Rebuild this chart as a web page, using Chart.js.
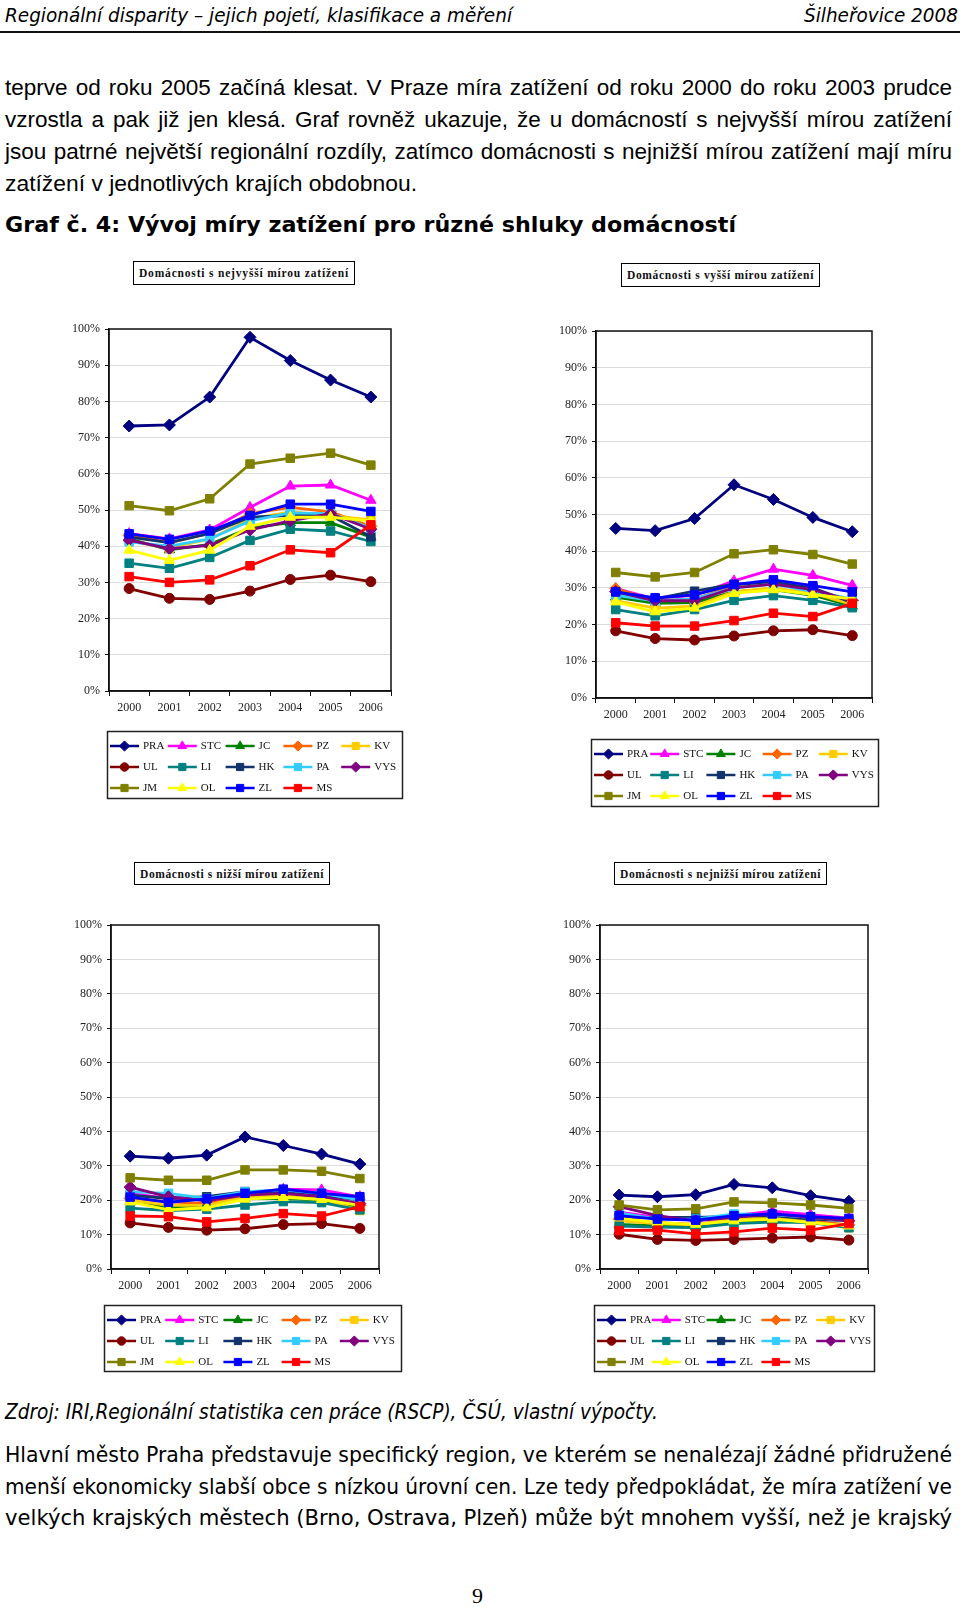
<!DOCTYPE html>
<html><head><meta charset="utf-8">
<script src="https://cdn.jsdelivr.net/npm/chart.js@4.4.1/dist/chart.umd.min.js"></script>
<style>
html,body{margin:0;padding:0;background:#fff;}
body{width:960px;height:1607px;position:relative;overflow:hidden;}
.t{position:absolute;white-space:nowrap;transform-origin:0 50%;color:#000;}
.cv{position:absolute;}
.tbox{position:absolute;border:1px solid #000;box-sizing:border-box;background:#fff;overflow:visible;}
.tbox span{position:absolute;left:5px;top:50%;white-space:nowrap;font-family:'Liberation Serif',serif;font-size:11.5px;font-weight:bold;color:#111;transform-origin:0 50%;}
.rule{position:absolute;left:0;top:31px;width:960px;height:2px;background:#111;}
</style></head><body>
<div class="rule"></div>
<script>
// ---------- DATA ----------
const years = ['2000','2001','2002','2003','2004','2005','2006'];
const regions = ['PRA','STC','JC','PZ','KV','UL','LI','HK','PA','VYS','JM','OL','ZL','MS'];
const yTickValues = [0,10,20,30,40,50,60,70,80,90,100];

// values in % ; rows follow the order of `regions`
const nejvyssi = [
  [73.2,73.5,81.2,97.7,91.3,85.9,81.2],
  [43.5,42.0,44.5,50.7,56.6,56.9,52.7],
  [42.0,39.0,40.5,45.0,46.5,46.5,42.5],
  [43.0,41.0,43.5,49.0,50.7,49.5,45.5],
  [41.5,39.5,42.0,47.5,49.5,48.5,47.3],
  [28.3,25.6,25.3,27.6,30.8,32.0,30.2],
  [35.3,33.9,36.9,41.6,44.7,44.2,41.3],
  [42.5,41.0,43.5,48.0,48.5,48.5,42.6],
  [41.2,40.0,42.0,47.0,49.2,49.0,45.0],
  [41.7,39.3,40.2,44.5,47.0,49.0,44.7],
  [51.2,49.8,53.1,62.7,64.3,65.7,62.4],
  [38.9,36.1,38.9,45.5,48.0,48.0,47.0],
  [43.4,41.9,44.2,48.5,51.6,51.6,49.6],
  [31.6,30.0,30.7,34.6,39.0,38.2,45.9]
];
const vyssi = [
  [46.2,45.6,48.9,58.1,54.1,49.2,45.3],
  [29.8,27.0,28.0,31.9,35.1,33.4,30.7],
  [27.5,25.8,26.0,29.0,29.5,28.0,25.0],
  [29.8,26.5,27.0,30.5,31.0,29.5,26.5],
  [26.5,24.5,25.0,29.0,30.0,28.5,25.5],
  [18.3,16.2,15.8,16.9,18.3,18.6,17.0],
  [24.1,22.4,24.1,26.6,27.9,26.6,24.6],
  [28.5,27.0,29.1,31.0,31.5,30.0,26.0],
  [28.0,26.5,27.0,30.0,31.0,29.0,27.0],
  [29.0,26.5,26.5,30.0,31.0,29.5,26.5],
  [34.2,33.0,34.2,39.3,40.4,39.1,36.5],
  [26.2,23.5,24.5,28.5,29.5,28.2,27.0],
  [28.9,27.3,28.1,30.9,32.2,30.6,28.9],
  [20.5,19.6,19.6,21.1,23.1,22.2,25.8]
];
const nizsi = [
  [32.8,32.2,33.1,38.4,35.9,33.4,30.5],
  [22.0,20.5,20.0,22.0,23.2,23.0,21.0],
  [19.5,18.0,18.5,20.5,20.5,20.0,18.0],
  [20.5,19.5,19.0,21.0,22.0,20.5,18.5],
  [20.0,18.5,18.5,21.0,21.5,20.5,17.0],
  [13.4,12.1,11.3,11.7,12.9,13.2,11.8],
  [17.7,17.0,17.4,18.6,19.6,19.3,17.2],
  [21.5,20.5,21.0,22.5,22.5,21.5,20.0],
  [22.5,22.0,20.5,22.5,23.0,22.0,20.0],
  [23.8,21.0,19.8,21.5,22.0,21.0,19.0],
  [26.5,25.8,25.8,28.8,28.8,28.4,26.3],
  [19.5,17.2,17.8,20.3,20.8,20.2,18.5],
  [20.9,19.4,20.4,22.0,23.2,22.0,21.0],
  [15.4,15.2,13.7,14.7,16.1,15.4,18.1]
];
const nejnizsi = [
  [21.5,21.0,21.6,24.6,23.6,21.3,19.7],
  [16.5,15.0,14.5,15.5,16.8,15.8,14.8],
  [13.0,12.5,12.3,13.7,14.0,13.8,12.5],
  [14.5,13.5,13.0,14.3,14.5,14.0,12.8],
  [14.0,13.2,12.8,14.5,14.8,13.8,12.0],
  [10.1, 8.6, 8.3, 8.6, 9.0, 9.3, 8.4],
  [12.5,12.2,12.0,13.2,13.6,13.5,12.0],
  [15.0,15.0,15.0,15.3,15.5,14.5,14.0],
  [16.3,14.5,14.5,16.0,15.8,15.0,14.0],
  [18.1,15.5,14.0,15.0,16.0,15.0,14.0],
  [18.6,17.2,17.5,19.5,19.2,18.6,17.6],
  [14.8,13.5,13.0,14.0,14.5,13.5,12.5],
  [15.5,14.5,14.2,15.5,16.0,15.2,14.7],
  [11.2,11.3,10.2,10.8,11.9,11.3,13.2]
];
const chartTitles = [
  'Domácnosti s nejvyšší mírou zatížení',
  'Domácnosti s vyšší mírou zatížení',
  'Domácnosti s nižší mírou zatížení',
  'Domácnosti s nejnižší mírou zatížení'
];

// ---------- STYLE ----------
const seriesColors = ['#000080','#FF00FF','#008000','#FF6600','#FFCC00','#800000','#008080','#12336B','#33CCFF','#800080','#808000','#FFFF00','#0000FF','#FF0000'];
const seriesMarkers = ['rectRot','triangle','triangle','rectRot','rect','circle','rect','rect','rect','rectRot','rect','triangle','rect','rect'];
const markerRadius = {rectRot:6,triangle:6,rect:6,circle:5};

// ---------- TEXT ----------
const SANS='"DejaVu Sans",sans-serif';
const ARIAL='"Liberation Sans",Arial,sans-serif';
const lines = [
  {text:'Regionální disparity – jejich pojetí, klasifikace a měření', x:5, cy:15, w:507, font:'italic 20px '+SANS, mode:'scale'},
  {text:'Šilheřovice 2008', x:804, cy:15, w:154, font:'italic 20px '+SANS, mode:'scale'},
  {text:'teprve od roku 2005 začíná klesat. V Praze míra zatížení od roku 2000 do roku 2003 prudce', x:5, cy:88, w:947, font:'22.5px '+ARIAL, mode:'justify'},
  {text:'vzrostla a pak již jen klesá. Graf rovněž ukazuje, že u domácností s nejvyšší mírou zatížení', x:5, cy:120, w:947, font:'22.5px '+ARIAL, mode:'justify'},
  {text:'jsou patrné největší regionální rozdíly, zatímco domácnosti s nejnižší mírou zatížení mají míru', x:5, cy:152, w:947, font:'22.5px '+ARIAL, mode:'justify'},
  {text:'zatížení v jednotlivých krajích obdobnou.', x:5, cy:184, w:412, font:'22.5px '+ARIAL, mode:'scale'},
  {text:'Graf č. 4: Vývoj míry zatížení pro různé shluky domácností', x:5, cy:225, w:731, font:'bold 22px '+SANS, mode:'scale'},
  {text:'Zdroj: IRI,Regionální statistika cen práce (RSCP), ČSÚ, vlastní výpočty.', x:5, cy:1412, w:653, font:'italic 21px '+SANS, mode:'scale'},
  {text:'Hlavní město Praha představuje specifický region, ve kterém se nenalézají žádné přidružené', x:5, cy:1455, w:947, font:'22px '+SANS, mode:'scale'},
  {text:'menší ekonomicky slabší obce s nízkou úrovní cen. Lze tedy předpokládat, že míra zatížení ve', x:5, cy:1487, w:947, font:'22px '+SANS, mode:'scale'},
  {text:'velkých krajských městech (Brno, Ostrava, Plzeň) může být mnohem vyšší, než je krajský', x:5, cy:1518, w:947, font:'22px '+SANS, mode:'scale'},
  {text:'9', x:472, cy:1596, font:'22px "Liberation Serif",serif'}
];
lines.forEach(L=>{
  const d=document.createElement('div'); d.className='t'; d.textContent=L.text;
  d.style.font=L.font; d.style.lineHeight='28px'; d.style.left=L.x+'px'; d.style.top=(L.cy-14)+'px';
  document.body.appendChild(d);
  if(L.w){
    const nat=d.getBoundingClientRect().width;
    if(L.mode==='scale' || nat>L.w){ d.style.transform='scaleX('+(L.w/nat)+')'; }
    else { const sp=(L.text.match(/ /g)||[]).length; if(sp) d.style.wordSpacing=((L.w-nat)/sp)+'px'; }
  }
});

// ---------- CHARTS ----------
const panels = [
  {vals:nejvyssi, L:109,R:391,T:329,B:691, leg:{x:107,y:731,w:295,h:67}, tb:{x:133,y:261,w:222,h:24}},
  {vals:vyssi,    L:596,R:872,T:331,B:698, leg:{x:591,y:739,w:287,h:67}, tb:{x:621,y:263,w:199,h:24}},
  {vals:nizsi,    L:111,R:379,T:925,B:1269, leg:{x:104,y:1305,w:297,h:66}, tb:{x:134,y:862,w:196,h:23}},
  {vals:nejnizsi, L:600,R:868,T:925,B:1269, leg:{x:594,y:1305,w:280,h:66}, tb:{x:614,y:862,w:213,h:23}}
];
const TICKFONT={family:'"Liberation Serif",serif', size:12};

panels.forEach((p,k)=>{
  const cl=p.L-60, ct=p.T-15;
  const cr=Math.max(p.R,p.leg.x+p.leg.w)+10, cb=p.leg.y+p.leg.h+8;
  const cw=cr-cl, ch=cb-ct;
  const xAxisH=30;
  const cv=document.createElement('canvas'); cv.className='cv';
  cv.width=cw; cv.height=ch; cv.style.left=cl+'px'; cv.style.top=ct+'px';
  cv.style.width=cw+'px'; cv.style.height=ch+'px';
  document.body.appendChild(cv);

  const lb={x:p.leg.x-cl, y:p.leg.y-ct, w:p.leg.w, h:p.leg.h};
  const frame={id:'frame'+k, beforeDatasetsDraw(chart){
    const a=chart.chartArea, c=chart.ctx; c.save(); c.strokeStyle='#111'; c.lineWidth=1.5;
    c.strokeRect(a.left,a.top,a.right-a.left,a.bottom-a.top); c.restore(); }};
  const legend={id:'gridLegend'+k, afterDraw(chart){
    const c=chart.ctx; c.save();
    c.strokeStyle='#222'; c.lineWidth=1.5; c.strokeRect(lb.x+0.5,lb.y+0.5,lb.w,lb.h);
    const step=(lb.w-6)/5;
    chart.data.datasets.forEach((ds,i)=>{
      const col=i%5,row=Math.floor(i/5);
      const x0=lb.x+3+col*step, yy=lb.y+15+row*21;
      c.strokeStyle=ds.borderColor; c.lineWidth=2.5;
      c.beginPath(); c.moveTo(x0,yy); c.lineTo(x0+29,yy); c.stroke();
      c.fillStyle=ds.pointBackgroundColor; c.strokeStyle=ds.borderColor; c.lineWidth=1;
      Chart.helpers.drawPoint(c,{pointStyle:ds.pointStyle,radius:ds.pointRadius*0.85,rotation:0,borderWidth:1},x0+14.5,yy);
      c.fillStyle='#111'; c.font='11px "Liberation Serif",serif'; c.textBaseline='middle'; c.textAlign='left';
      c.fillText(ds.label,x0+33,yy+0.5);
    });
    c.restore(); }};

  const datasets = regions.map((r,i)=>({
    label:r, data:p.vals[i],
    borderColor:seriesColors[i], backgroundColor:seriesColors[i],
    pointBackgroundColor:seriesColors[i], pointBorderColor:seriesColors[i],
    pointStyle:seriesMarkers[i], pointRadius:markerRadius[seriesMarkers[i]],
    pointBorderWidth:1, borderWidth:2.8, tension:0, fill:false,
    order:regions.length-i
  }));

  new Chart(cv,{
    type:'line',
    data:{labels:years, datasets},
    options:{
      responsive:false, animation:false, devicePixelRatio:1,
      layout:{padding:{left:0, top:p.T-ct, right:cr-p.R, bottom:cb-p.B-xAxisH}},
      plugins:{legend:{display:false}, tooltip:{enabled:false}},
      scales:{
        x:{type:'category', offset:true,
          grid:{offset:true, drawOnChartArea:false, drawTicks:true, tickLength:5, tickColor:'#111', color:'#111'},
          border:{display:true, color:'#111', width:1.5},
          ticks:{color:'#222', font:TICKFONT, padding:5, maxRotation:0, autoSkip:false},
          afterFit(s){ s.height=xAxisH; }
        },
        y:{min:0, max:100,
          afterBuildTicks(s){ s.ticks=yTickValues.map(v=>({value:v})); },
          grid:{color:'#dcdcdc', lineWidth:1, drawTicks:true, tickLength:4, tickColor:'#111'},
          border:{display:true, color:'#111', width:1.5},
          ticks:{color:'#222', font:TICKFONT, padding:5, callback:v=>v+'%'},
          afterFit(s){ s.width=p.L-cl; }
        }
      }
    },
    plugins:[frame, legend]
  });

  // title box
  const tb=document.createElement('div'); tb.className='tbox';
  tb.style.left=p.tb.x+'px'; tb.style.top=p.tb.y+'px'; tb.style.width=p.tb.w+'px'; tb.style.height=p.tb.h+'px';
  const sp=document.createElement('span'); sp.textContent=chartTitles[k]; tb.appendChild(sp);
  document.body.appendChild(tb);
  sp.style.transform='translateY(-50%)';
  const nat=sp.getBoundingClientRect().width, target=p.tb.w-12;
  const n=chartTitles[k].length;
  if(nat<target){ sp.style.letterSpacing=((target-nat)/n)+'px'; }
  else { sp.style.transform='translateY(-50%) scaleX('+(target/nat)+')'; }
});
</script>
</body></html>
